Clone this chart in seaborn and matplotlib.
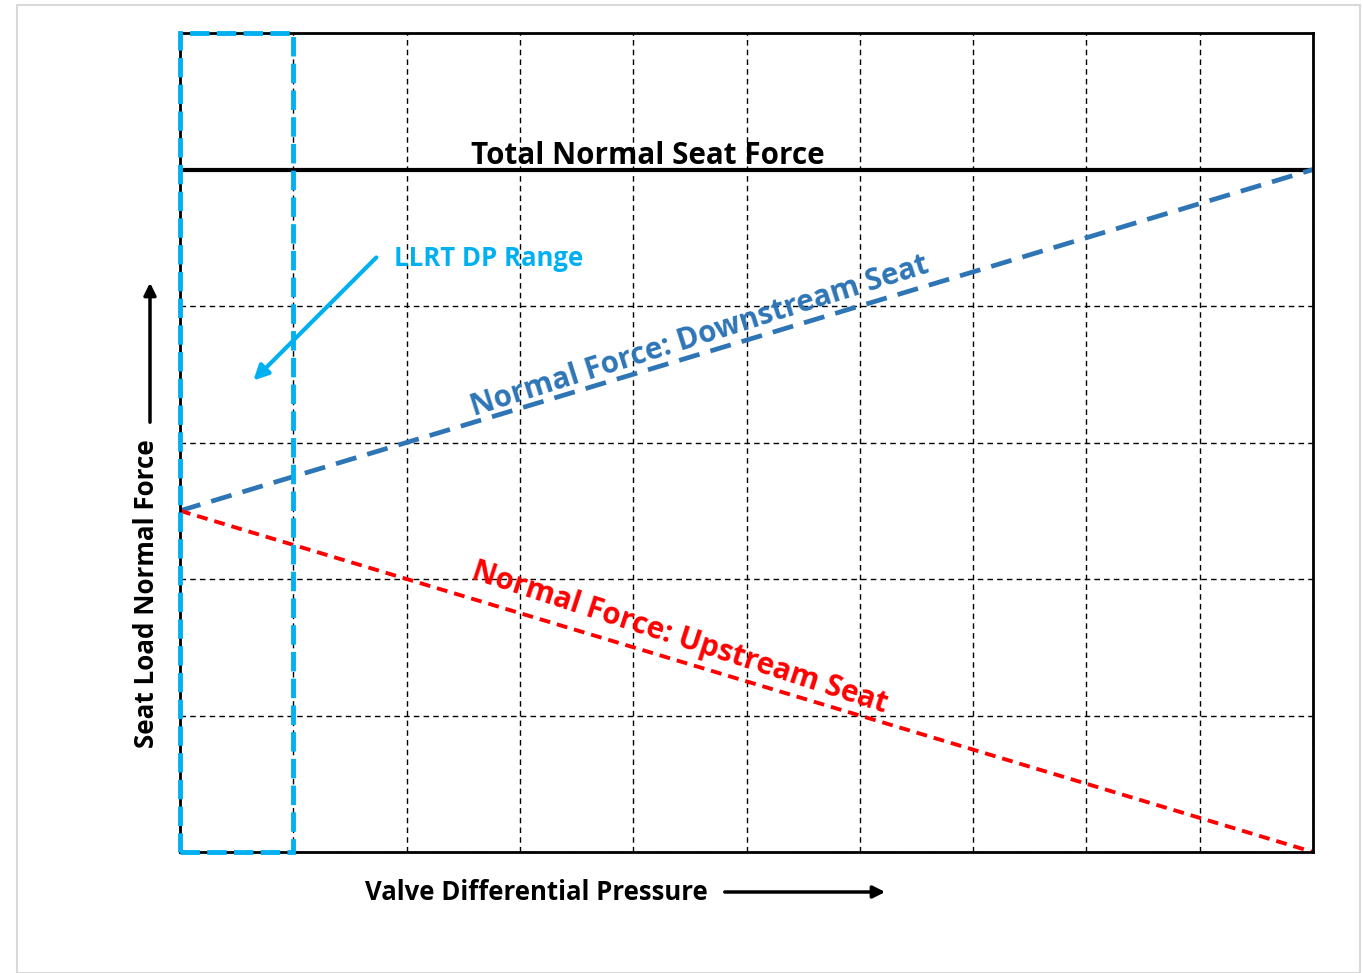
import numpy as np
import pandas as pd
import seaborn as sns
import matplotlib.pyplot as plt
from matplotlib.patches import Rectangle, FancyArrowPatch

sns.set_style("white")
plt.rcParams['font.family'] = ['Open Sans', 'DejaVu Sans']
plt.rcParams['text.color'] = 'black'

dp = [0, 10]
total_force = [5, 5]
downstream = [2.5, 5]
upstream = [2.5, 0]
llrt_range = [0, 1]

df = pd.DataFrame({"dp": dp, "total": total_force, "down": downstream, "up": upstream})

fig = plt.figure(figsize=(13.63, 9.73), dpi=100)
ax = fig.add_axes([180/1363, 1-852/973, (1313-180)/1363, (852-33)/973])

# light frame around the picture
fig.patches.append(Rectangle((17/1363, 0), (1360-17)/1363, 1-5/973, transform=fig.transFigure,
                             fill=False, edgecolor='#d9d9d9', linewidth=1.5))

ax.set_xlim(0, 10)
ax.set_ylim(0, 6)
ax.set_xticks(np.arange(0, 11, 1))
ax.set_yticks(np.arange(0, 7, 1))
ax.grid(True, color='black', linestyle=(0, (4, 3)), linewidth=1)
ax.tick_params(length=0, labelbottom=False, labelleft=False)
for s in ax.spines.values():
    s.set_color('black')
    s.set_linewidth(2)

sns.lineplot(data=df, x="dp", y="total", color='black', linewidth=3, ax=ax)
sns.lineplot(data=df, x="dp", y="down", color='#2E75B6', linewidth=3.4, ax=ax)
sns.lineplot(data=df, x="dp", y="up", color='#FF0000', linewidth=2.8, ax=ax)
ax.lines[-2].set_dashes((4.5, 2.4))
ax.lines[-1].set_dashes((2.8, 1.8))
ax.set_xlabel("")
ax.set_ylabel("")

ax.add_patch(Rectangle((llrt_range[0], 0), llrt_range[1]-llrt_range[0], 6, fill=False,
                       edgecolor='#00B0F0', linewidth=3.5, linestyle=(0, (4, 1.5)), clip_on=False, zorder=5))

ax.text(4.13, 4.99, "Total Normal Seat Force", ha='center', va='bottom', fontsize=21.3, fontweight='bold')
ax.text(1.89, 4.35, "LLRT DP Range", ha='left', va='center', fontsize=18.5, fontweight='bold', color='#00B0F0')
ax.annotate("", xy=(0.63, 3.44), xytext=(1.75, 4.37),
            arrowprops=dict(arrowstyle='-|>', color='#00B0F0', lw=3, mutation_scale=22))
ax.text(4.59, 3.78, "Normal Force: Downstream Seat", ha='center', va='center', rotation=17.5,
        fontsize=21.3, fontweight='bold', color='#2E75B6', rotation_mode='anchor')
ax.text(4.41, 1.57, "Normal Force: Upstream Seat", ha='center', va='center', rotation=-18,
        fontsize=21.3, fontweight='bold', color='#FF0000', rotation_mode='anchor')

fig.text(365/1363, 1-892/973, "Valve Differential Pressure", ha='left', va='center', fontsize=18.5, fontweight='bold')
fig.text(147/1363, 1-594/973, "Seat Load Normal Force", ha='center', va='center', rotation=90,
         fontsize=18.7, fontweight='bold')
fig.patches.append(FancyArrowPatch((722/1363, 1-892/973), (888/1363, 1-892/973),
                   transform=fig.transFigure, arrowstyle='-|>', mutation_scale=18, color='black', lw=2.5))
fig.patches.append(FancyArrowPatch((150/1363, 1-425/973), (150/1363, 1-280/973),
                   transform=fig.transFigure, arrowstyle='-|>', mutation_scale=18, color='black', lw=2.5))

fig.savefig("out.png", dpi=100)
